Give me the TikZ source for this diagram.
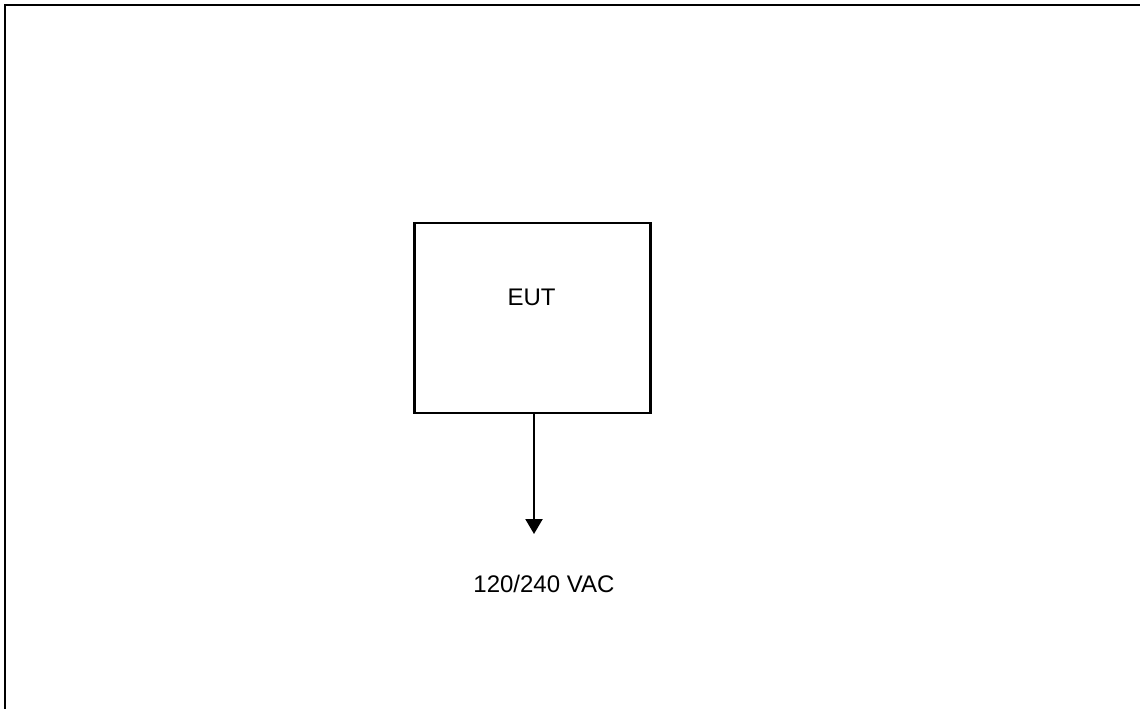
\documentclass[tikz,border=0pt]{standalone}
\usepackage{fontspec}
\setmainfont{Liberation Sans}
\usetikzlibrary{arrows.meta}
\begin{document}
\begin{tikzpicture}[x=0.5pt,y=-0.5pt,
  frameline/.style={line width=1.2pt,black},
  boxstyle/.style={draw=black,line width=1.1pt,minimum width=118pt,minimum height=95pt,inner sep=0pt},
  lbl/.style={inner sep=0pt,font=\fontsize{12}{14}\selectfont},
  conn/.style={line width=1.1pt,-{Triangle[width=8.5pt,length=7.5pt]}}]
\useasboundingbox (0,0) rectangle (1140,708);
\coordinate (ftr) at (1145,5);
\coordinate (ftl) at (5,5);
\coordinate (fbl) at (5,713);
\draw[frameline] (ftr) -- (ftl) -- (fbl);
\node[boxstyle] (eut) at (532.5,318) {};
\node[lbl,anchor=base] (euttext) at (531.5,305.7) {EUT};
\coordinate (tip) at (534,534);
\draw[conn] (eut.south -| tip) -- (tip);
\node[lbl,anchor=base west] (vac) at (473,592.7) {120/240 VAC};
\end{tikzpicture}
\end{document}
